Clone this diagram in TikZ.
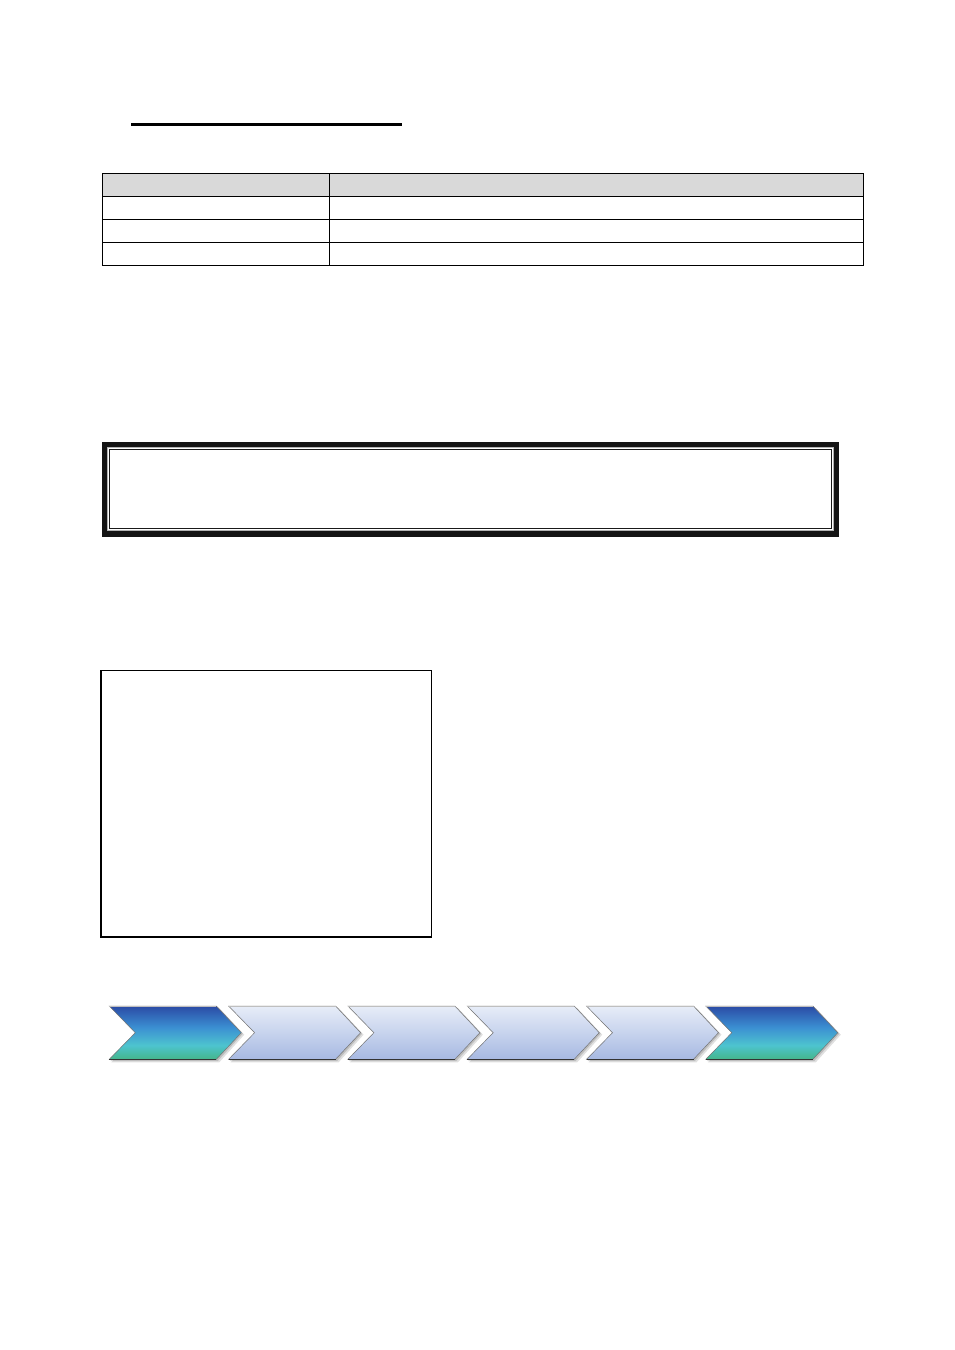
\documentclass[tikz,border=0pt]{standalone}
\definecolor{hdrgray}{HTML}{D9D9D9}
\definecolor{dkA}{HTML}{2B4BA5}
\definecolor{dkB}{HTML}{3B8FD2}
\definecolor{dkC}{HTML}{4DC4CF}
\definecolor{dkD}{HTML}{44B68A}
\definecolor{ltA}{HTML}{E7EDF8}
\definecolor{ltB}{HTML}{A7B9E2}
\pgfdeclareverticalshading{chevdark}{100bp}{color(0bp)=(dkD); color(25bp)=(dkD); color(38bp)=(dkC); color(55bp)=(dkB); color(75bp)=(dkA); color(100bp)=(dkA)}
\pgfdeclareverticalshading{chevlight}{100bp}{color(0bp)=(ltB); color(25bp)=(ltB); color(75bp)=(ltA); color(100bp)=(ltA)}
\tikzset{
  rule/.style={line width=1.5pt, black},
  plainbox/.style={draw=black, line width=1.4pt},
}
\begin{document}
\begin{tikzpicture}[x=1pt,y=-1pt]
\useasboundingbox (0,0) rectangle (954,1350);
\fill[white] (0,0) rectangle (954,1350);
% title underline
\draw[line width=3pt] (131,124.5) -- (402,124.5);
% table
\fill[hdrgray] (102.5,173.5) rectangle (863.5,196.5);
\draw[rule] (102.5,173.5) rectangle (863.5,265.5);
\foreach \yy in {196.5,219.5,242.5} \draw[rule] (102.5,\yy) -- (863.5,\yy);
\draw[rule] (329.5,173.5) -- (329.5,265.5);
% double frame
\fill[black!92] (102,442) rectangle (839,537);
\fill[black!30] (107,447) rectangle (834,531);
\fill[white] (108,448) rectangle (833,530);
\draw[black!90, line width=1.3pt] (109.8,449.8) rectangle (831.2,528.8);
% plain box
\draw[plainbox] (101,670.5) rectangle (431.5,937);
% chevrons
\foreach \xx/\sh in {109.3/chevdark,228.6/chevlight,347.9/chevlight,467.2/chevlight,586.5/chevlight,705.8/chevdark}{
  \begin{scope}[shift={(\xx,1006)}]
    \fill[black, opacity=0.12] (2,2) -- (110,2) -- (135,28.7) -- (110,56.3) -- (2,56.3) -- (28,28.7) -- cycle;
    \fill[black, opacity=0.15] (1,1) -- (108.5,1) -- (133.5,27.7) -- (108.5,55) -- (1,55) -- (27,27.7) -- cycle;
    \shade[shading=\sh, draw=black!55, line width=0.5pt] (0,0) -- (107,0) -- (132,26.7) -- (107,53.3) -- (0,53.3) -- (26,26.7) -- cycle;
    \draw[black!80, line width=0.9pt] (0,53.3) -- (107,53.3);
    \draw[black!25, line width=0.7pt] (0,0) -- (107,0);
  \end{scope}
}
\end{tikzpicture}
\end{document}
